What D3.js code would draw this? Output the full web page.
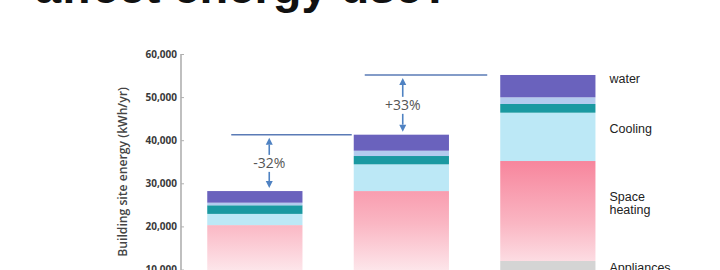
<!DOCTYPE html>
<html>
<head>
<meta charset="utf-8">
<script src="https://cdn.jsdelivr.net/npm/d3@7"></script>
<style>
  html, body { margin: 0; padding: 0; background: #fff; }
  svg { display: block; }
</style>
</head>
<body>
<svg id="chart" width="720" height="270"></svg>
<script>
// Building scenarios (one stacked bar each)
const categories = ["Compact", "Typical", "Large"];

// End uses, bottom to top of each stack
const series = ["Other", "Appliances", "Space heating", "Cooling", "Ventilation", "Fans", "Hot water"];

// Annual site energy per end use (kWh/yr), in the order of `series`
const other        = [5000, 5000, 5000];
const appliances   = [4000, 4500, 6970];
const spaceHeating = [11300, 18700, 23200];
const cooling      = [2600, 6200, 11210];
const ventilation  = [2000, 1930, 2020];
const fans         = [600, 1230, 1550];
const hotWater     = [2700, 3720, 5180];

// Axis ticks
const yTicks = [10000, 20000, 30000, 40000, 50000, 60000];

// Right-hand labels for the last bar
const endUseLabels = [
  { key: "Hot water", lines: ["water"] },
  { key: "Cooling", lines: ["Cooling"] },
  { key: "Space heating", lines: ["Space", "heating"] },
  { key: "Appliances", lines: ["Appliances"] }
];

// Change between neighbouring bars
const changes = [
  { from: "Compact", to: "Typical", label: "-32%" },
  { from: "Typical", to: "Large", label: "+33%" }
];

const valuesBySeries = {
  "Other": other,
  "Appliances": appliances,
  "Space heating": spaceHeating,
  "Cooling": cooling,
  "Ventilation": ventilation,
  "Fans": fans,
  "Hot water": hotWater
};

const rows = categories.map((c, i) => {
  const r = { category: c };
  series.forEach(s => { r[s] = valuesBySeries[s][i]; });
  return r;
});

const stacked = d3.stack().keys(series)(rows);
const totals = rows.map(r => d3.sum(series, s => r[s]));

const svg = d3.select("#chart");

const y = d3.scaleLinear().domain([0, 60000]).range([312.6, 54]);
const x = d3.scaleBand()
  .domain(categories)
  .range([134, 668.7])
  .paddingInner(0.35)
  .paddingOuter(0.5);

const colors = {
  "Other": "#c9c9c9",
  "Appliances": "#d4d4d4",
  "Space heating": "url(#heatGrad)",
  "Cooling": "#bce8f6",
  "Ventilation": "#1a99a1",
  "Fans": "#b3cbee",
  "Hot water": "#6a62bd"
};

// Heating fades from a strong pink near the top of the tallest stack
const defs = svg.append("defs");
const grad = defs.append("linearGradient")
  .attr("id", "heatGrad")
  .attr("gradientUnits", "userSpaceOnUse")
  .attr("x1", 0).attr("x2", 0)
  .attr("y1", y(35000)).attr("y2", y(9000));
grad.append("stop").attr("offset", "0%").attr("stop-color", "#f7869d");
grad.append("stop").attr("offset", "55%").attr("stop-color", "#fab6c3");
grad.append("stop").attr("offset", "100%").attr("stop-color", "#fde9ed");

// Title (runs off the top edge)
svg.append("text")
  .attr("x", 35)
  .attr("y", 3)
  .attr("font-family", "Liberation Sans, Arial, sans-serif")
  .attr("font-weight", "bold")
  .attr("font-size", 47)
  .attr("fill", "#111")
  .text("affect energy use?");

// Stacked bars
svg.append("g")
  .selectAll("g")
  .data(stacked)
  .join("g")
  .attr("fill", d => colors[d.key])
  .selectAll("rect")
  .data(d => d)
  .join("rect")
  .attr("x", d => x(d.data.category))
  .attr("width", x.bandwidth())
  .attr("y", d => y(d[1]))
  .attr("height", d => y(d[0]) - y(d[1]));

// Y axis
const yAxis = d3.axisRight(y)
  .tickValues(yTicks)
  .tickSize(3)
  .tickFormat(d3.format(","));
const gy = svg.append("g")
  .attr("transform", "translate(181,0)")
  .call(yAxis);
gy.select(".domain")
  .attr("stroke", "#b0b0b0")
  .attr("stroke-width", 1.6)
  .attr("d", `M0,${y(60000)}V${y(0)}`);
gy.selectAll(".tick line").attr("stroke", "#b0b0b0").attr("stroke-width", 1);
gy.selectAll(".tick text")
  .attr("x", -4)
  .attr("text-anchor", "end")
  .attr("font-family", "Open Sans, sans-serif")
  .attr("font-weight", "bold")
  .attr("font-size", 10)
  .attr("fill", "#3a3a3a");

// Y axis title
svg.append("text")
  .attr("transform", `translate(127,${(y(60000) + 290) / 2}) rotate(-90)`)
  .attr("text-anchor", "middle")
  .attr("font-family", "Open Sans, sans-serif")
  .attr("font-weight", 600)
  .attr("font-size", 12.2)
  .attr("fill", "#444")
  .text("Building site energy (kWh/yr)");

// Change annotations: reference line at the next bar's total, arrows and percentage
const lineColor = "#5a7bb6";
const arrowColor = "#4f82c2";
const annoLayout = [
  { lineStart: 24, lineEndGap: 2, arrowAt: 62 },
  { lineStart: 11, lineEndGap: 13, arrowAt: 49 }
];
const anno = svg.append("g");

function arrow(g, ax, tipY, tailY) {
  const dir = tipY < tailY ? 1 : -1;
  const head = 7;
  g.append("line")
    .attr("x1", ax).attr("x2", ax)
    .attr("y1", tailY).attr("y2", tipY + dir * head)
    .attr("stroke", arrowColor).attr("stroke-width", 1.6);
  g.append("path")
    .attr("d", `M${ax},${tipY}L${ax - 3.5},${tipY + dir * head}L${ax + 3.5},${tipY + dir * head}Z`)
    .attr("fill", arrowColor);
}

changes.forEach((c, i) => {
  const lay = annoLayout[i];
  const iFrom = categories.indexOf(c.from);
  const iTo = categories.indexOf(c.to);
  const topY = y(totals[iTo]);
  const lowY = y(totals[iFrom]);
  const x0 = x(c.from) + lay.lineStart;
  const x1 = x(c.to) - lay.lineEndGap;
  const ax = x(c.from) + lay.arrowAt;
  const mid = (topY + lowY) / 2;

  anno.append("line")
    .attr("x1", x0).attr("x2", x1)
    .attr("y1", topY).attr("y2", topY)
    .attr("stroke", lineColor).attr("stroke-width", 1.5);

  arrow(anno, ax, topY + 3, mid - 8);
  arrow(anno, ax, lowY - 3, mid + 9);

  anno.append("text")
    .attr("x", ax)
    .attr("y", mid)
    .attr("dy", "0.35em")
    .attr("text-anchor", "middle")
    .attr("font-family", "Open Sans, sans-serif")
    .attr("font-size", 14)
    .attr("fill", "#555")
    .text(c.label);
});

// End-use labels beside the last bar
const last = categories[categories.length - 1];
const lastIdx = categories.length - 1;
const labelG = svg.append("g")
  .attr("font-family", "Liberation Sans, Arial, sans-serif")
  .attr("font-size", 12.5)
  .attr("fill", "#222");
endUseLabels.forEach(l => {
  const layer = stacked.find(s => s.key === l.key)[lastIdx];
  const cy = (y(layer[0]) + y(layer[1])) / 2 - 8;
  const lh = 13.5;
  const t = labelG.append("text")
    .attr("x", x(last) + x.bandwidth() + 14)
    .attr("y", cy - (l.lines.length - 1) * lh / 2);
  l.lines.forEach((ln, k) => {
    t.append("tspan")
      .attr("x", x(last) + x.bandwidth() + 14)
      .attr("dy", k === 0 ? "0.35em" : lh)
      .text(ln);
  });
});
</script>
</body>
</html>
